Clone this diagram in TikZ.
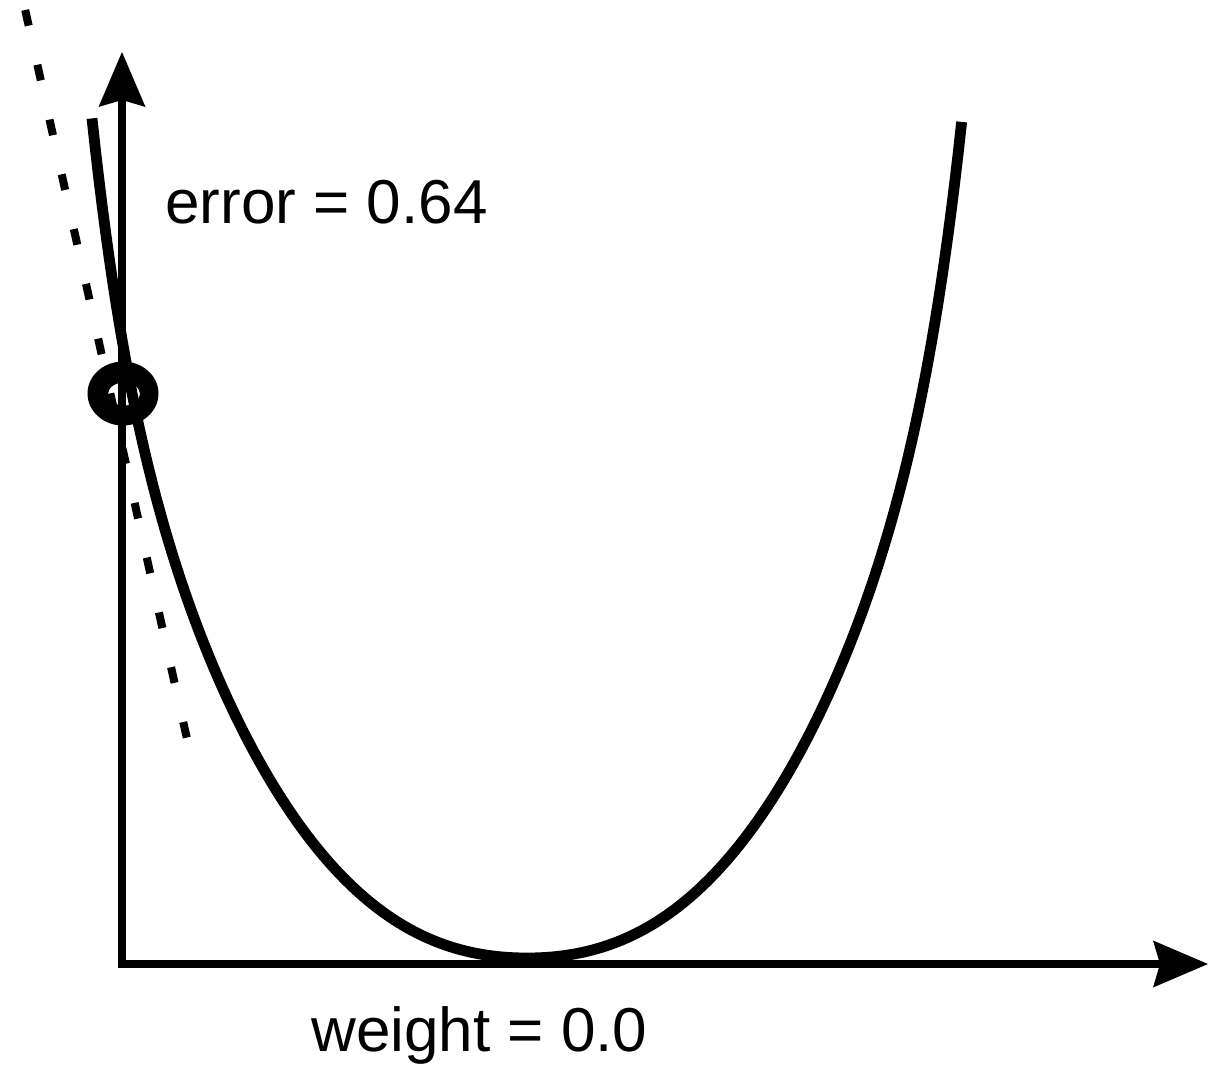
\documentclass[tikz,border=0pt]{standalone}
\usepackage{fontspec}
\setmainfont{Liberation Sans}
\usetikzlibrary{arrows.meta}
\tikzset{
  axisline/.style={line width=4.3pt, line join=miter,
    {Stealth[length=27.5pt,width=23.5pt,inset=3.5pt,line width=0pt]}-{Stealth[length=27.5pt,width=23.5pt,inset=3.5pt,line width=0pt]}},
  errcurve/.style={line width=5.4pt},
  tangentline/.style={line width=4pt, dash pattern=on 8pt off 20.05pt},
  marker/.style={fill=black, even odd rule},
  lbl/.style={font=\fontsize{31}{37}\selectfont, anchor=base west, inner sep=0pt},
  declare function={
    qtwo(\s)=(\s/4.35)*(\s/4.35);
    qfour(\s)=qtwo(\s)*qtwo(\s);
    qeight(\s)=qfour(\s)*qfour(\s);
    steep(\s)=qeight(\s)*qfour(\s)*(abs(\s)/4.35);
    errf(\s)=(16*\s)*\s + ((4.25*abs(\s))*\s)*\s + 187*steep(\s);
  }
}
\begin{document}
\begin{tikzpicture}[x=0.5pt,y=-0.5pt]
  \useasboundingbox (0,0) rectangle (1209,1066);
  % named points
  \coordinate (origin) at (122,964);
  \coordinate (ytip) at (122,52);
  \coordinate (xtip) at (1208,964);
  \coordinate (tanA) at (25.2,10);
  \coordinate (tanB) at (186.8,738);
  % point marker
  \fill[marker] (123,393.5) ellipse [x radius=35.5, y radius=32]
                (124,394) ellipse [x radius=16, y radius=11.5];
  % axes
  \draw[axisline] (ytip) -- (origin) -- (xtip);
  % error curve (s = horizontal offset / 100)
  \draw[errcurve] plot[domain=-4.35:4.35, samples=261, variable=\s]
    ({527+100*\s}, {958-errf(\s)});
  % tangent (dotted)
  \draw[tangentline] (tanA) -- (tanB);
  % labels
  \node[lbl] (errlbl) at (165,223) {error = 0.64};
  \node[lbl] (wlbl) at (311,1051) {weight = 0.0};
\end{tikzpicture}
\end{document}
